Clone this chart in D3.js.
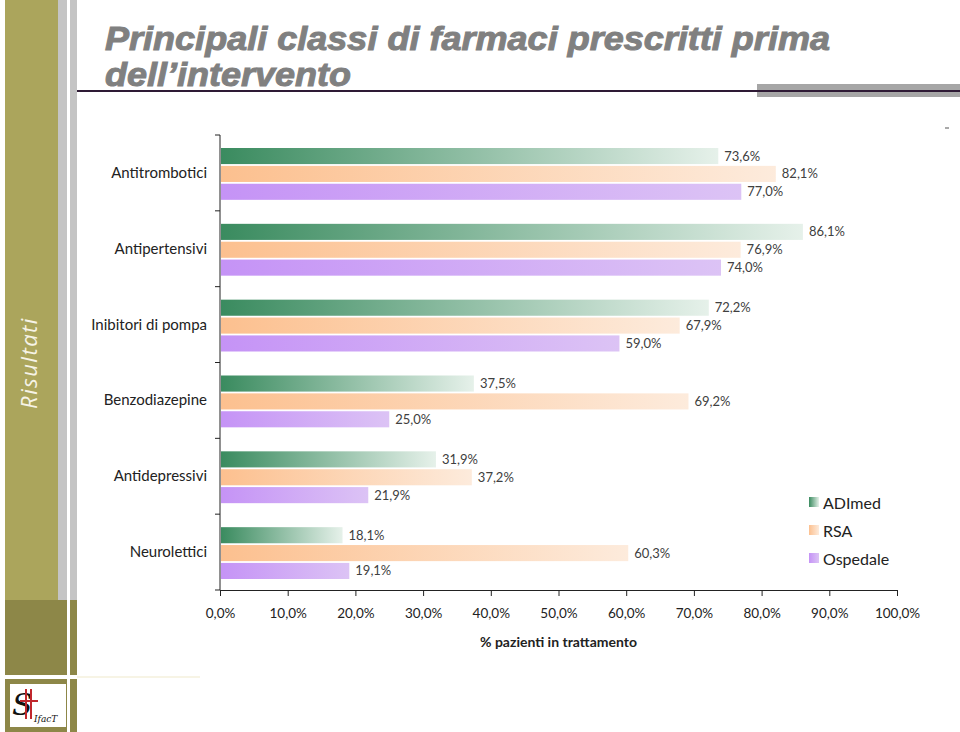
<!DOCTYPE html>
<html>
<head>
<meta charset="utf-8">
<script src="https://cdn.jsdelivr.net/npm/d3@7"></script>
<style>
  body { margin: 0; background: #fff; }
  svg { display: block; }
</style>
</head>
<body>
<svg id="chart" width="960" height="732"></svg>
<script>
// dati
const categorie = ["Antitrombotici", "Antipertensivi", "Inibitori di pompa", "Benzodiazepine", "Antidepressivi", "Neurolettici"];
const serie = ["ADImed", "RSA", "Ospedale"];
const adimed = [73.6, 86.1, 72.2, 37.5, 31.9, 18.1];
const rsa = [82.1, 76.9, 67.9, 69.2, 37.2, 60.3];
const ospedale = [77.0, 74.0, 59.0, 25.0, 21.9, 19.1];
const tickValori = [0, 10, 20, 30, 40, 50, 60, 70, 80, 90, 100];

const valori = [adimed, rsa, ospedale];
const svg = d3.select("#chart");

// --- cornice della slide ---
svg.append("rect").attr("x", 5).attr("y", 0).attr("width", 53).attr("height", 600).attr("fill", "#aba55c");
svg.append("rect").attr("x", 5).attr("y", 600).attr("width", 53).attr("height", 75).attr("fill", "#8d8748");
svg.append("rect").attr("x", 58).attr("y", 0).attr("width", 9).attr("height", 600).attr("fill", "#c4c4c4");
svg.append("rect").attr("x", 58).attr("y", 600).attr("width", 9).attr("height", 75).attr("fill", "#8d8748");
svg.append("rect").attr("x", 70).attr("y", 0).attr("width", 7).attr("height", 600).attr("fill", "#c4c4c4");
svg.append("rect").attr("x", 70).attr("y", 600).attr("width", 7).attr("height", 75).attr("fill", "#8d8748");
svg.append("rect").attr("x", 5).attr("y", 679).attr("width", 62).attr("height", 53).attr("fill", "#8d8748");
svg.append("rect").attr("x", 70).attr("y", 679).attr("width", 7).attr("height", 53).attr("fill", "#8d8748");
svg.append("line").attr("x1", 77).attr("x2", 200).attr("y1", 677).attr("y2", 677).attr("stroke", "#f4f1dc").attr("stroke-width", 1.5);

// logo
const logo = svg.append("g");
logo.append("rect").attr("x", 10).attr("y", 684).attr("width", 56).attr("height", 43).attr("fill", "#fff");
logo.append("text").attr("x", 12).attr("y", 715).text("S")
  .style("font-family", "DejaVu Serif").style("font-size", "30px").style("font-style", "italic").attr("fill", "#111");
logo.append("rect").attr("x", 25).attr("y", 689).attr("width", 2).attr("height", 30).attr("fill", "#c0272d");
logo.append("rect").attr("x", 30).attr("y", 689).attr("width", 2).attr("height", 30).attr("fill", "#c0272d");
logo.append("rect").attr("x", 20).attr("y", 700).attr("width", 18).attr("height", 2).attr("fill", "#c0272d");
logo.append("text").attr("x", 34).attr("y", 722).text("IfacT")
  .style("font-family", "DejaVu Serif").style("font-size", "9px").style("font-style", "italic").attr("fill", "#111");

svg.append("text")
  .attr("transform", "translate(37,363) rotate(-90)")
  .attr("text-anchor", "middle")
  .text("Risultati")
  .style("font-family", "'Open Sans', sans-serif").style("font-style", "italic")
  .style("font-size", "22px").style("letter-spacing", "1.5px").attr("fill", "#f6f3e6");

// titolo
const titolo = svg.append("text")
  .style("font-family", "'Liberation Sans', Arial, sans-serif")
  .style("font-weight", "bold").style("font-style", "italic")
  .style("font-size", "34px").attr("fill", "#808080")
  .attr("stroke", "#808080").attr("stroke-width", 1);
titolo.append("tspan").attr("x", 105).attr("y", 50)
  .attr("textLength", 725).attr("lengthAdjust", "spacingAndGlyphs")
  .text("Principali classi di farmaci prescritti prima");
titolo.append("tspan").attr("x", 105).attr("y", 86)
  .attr("textLength", 246).attr("lengthAdjust", "spacingAndGlyphs")
  .text("dell\u2019intervento");

svg.append("line").attr("x1", 77).attr("x2", 960).attr("y1", 91).attr("y2", 91).attr("stroke", "#2e1a35").attr("stroke-width", 2);
svg.append("rect").attr("x", 757).attr("y", 84).attr("width", 203).attr("height", 13).attr("fill", "#a6a6a6");
svg.append("rect").attr("x", 757).attr("y", 90).attr("width", 203).attr("height", 2).attr("fill", "#2e1a35");
svg.append("line").attr("x1", 945).attr("x2", 949).attr("y1", 128).attr("y2", 128).attr("stroke", "#555");

// --- grafico ---
const margine = { left: 220, right: 897, top: 135, bottom: 590 };
const x = d3.scaleLinear().domain([0, 100]).range([margine.left, margine.right]);
const y = d3.scaleBand().domain(categorie).range([margine.top, margine.bottom]);
const ySub = d3.scaleBand().domain(serie).range([13, y.bandwidth() - 11]).paddingInner(0.1);

const defs = svg.append("defs");
const gradienti = [
  ["gAD", "#3a8b5f", "#e6f1ea"],
  ["gRSA", "#fcc08f", "#fdebdc"],
  ["gOsp", "#c593f6", "#dcc3f5"]
];
gradienti.forEach(g => {
  const lg = defs.append("linearGradient").attr("id", g[0]).attr("x1", "0%").attr("x2", "100%").attr("y1", "0%").attr("y2", "0%");
  lg.append("stop").attr("offset", "0%").attr("stop-color", g[1]);
  lg.append("stop").attr("offset", "100%").attr("stop-color", g[2]);
});

const font = "'Lato', 'Open Sans', sans-serif";

serie.forEach((s, i) => {
  const gruppo = svg.append("g");
  gruppo.selectAll("rect")
    .data(categorie)
    .enter()
    .append("rect")
    .attr("x", x(0) + 1)
    .attr("y", (d) => y(d) + ySub(s))
    .attr("width", (d, j) => x(valori[i][j]) - x(0) - 1)
    .attr("height", ySub.bandwidth())
    .attr("fill", `url(#${gradienti[i][0]})`);

  gruppo.selectAll("text")
    .data(categorie)
    .enter()
    .append("text")
    .attr("x", (d, j) => x(valori[i][j]) + 6)
    .attr("y", (d) => y(d) + ySub(s) + ySub.bandwidth() / 2 + 4.5)
    .text((d, j) => valori[i][j].toFixed(1).replace(".", ",") + "%")
    .style("font-family", font).style("font-size", "13px").attr("fill", "#404040");
});

// asse y
const asseY = svg.append("g").attr("transform", `translate(${margine.left},0)`);
asseY.append("line").attr("y1", margine.top).attr("y2", margine.bottom).attr("stroke", "#222");
const confini = categorie.map(c => y(c)).concat([margine.bottom]);
asseY.selectAll(".tick").data(confini).enter().append("line")
  .attr("x1", -5).attr("x2", 0).attr("y1", d => d).attr("y2", d => d).attr("stroke", "#222");
asseY.selectAll(".lab").data(categorie).enter().append("text")
  .attr("x", -13).attr("y", d => y(d) + y.bandwidth() / 2 + 5)
  .attr("text-anchor", "end")
  .text(d => d)
  .style("font-family", font).style("font-size", "15px").attr("fill", "#222");

// asse x
const asseX = svg.append("g").attr("transform", `translate(0,${margine.bottom})`)
  .call(d3.axisBottom(x).tickValues(tickValori).tickSize(6).tickPadding(12)
    .tickFormat(d => d.toFixed(1).replace(".", ",") + "%"));
asseX.select(".domain").attr("stroke", "#222");
asseX.selectAll(".tick line").attr("stroke", "#222");
asseX.selectAll(".tick text").style("font-family", font).style("font-size", "13.5px").attr("fill", "#222");

svg.append("text")
  .attr("x", (margine.left + margine.right) / 2).attr("y", 647)
  .attr("text-anchor", "middle")
  .text("% pazienti in trattamento")
  .style("font-family", font).style("font-weight", "bold").style("font-size", "14px").attr("fill", "#222");

// legenda
const legenda = svg.append("g").attr("transform", "translate(809,497)");
serie.forEach((s, i) => {
  const r = legenda.append("g").attr("transform", `translate(0,${i * 28})`);
  r.append("rect").attr("width", 10).attr("height", 10).attr("fill", `url(#${gradienti[i][0]})`);
  r.append("text").attr("x", 14).attr("y", 12).text(s)
    .style("font-family", font).style("font-size", "16px").attr("fill", "#222");
});
</script>
</body>
</html>
